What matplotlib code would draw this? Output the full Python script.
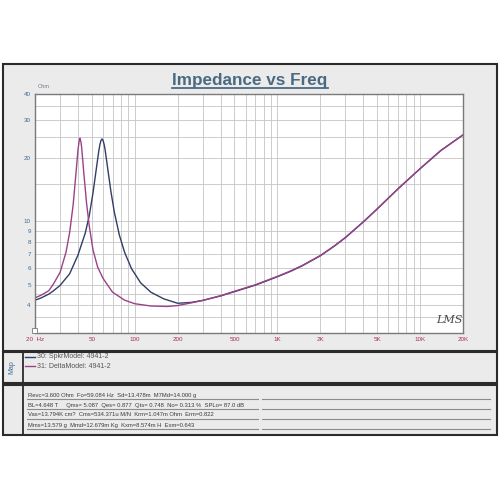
import numpy as np
import matplotlib
matplotlib.use('Agg')
import matplotlib.pyplot as plt
from matplotlib.patches import Rectangle
from matplotlib.lines import Line2D
from matplotlib.ticker import FixedLocator, NullFormatter

plt.rcParams['font.family'] = ['Liberation Sans', 'DejaVu Sans']

## Data ##################################################################
# 30: SpkrModel (navy)
spkr_freq = [20, 22, 25, 27, 30, 35, 40, 45, 48, 51, 54, 56, 57, 58, 59, 60, 61, 62, 65, 68, 72,
             78, 85, 95, 110, 130, 160, 200, 250, 300, 400, 500, 700, 1000, 1250, 1500, 2000,
             2500, 3000, 4000, 5000, 7000, 10000, 14000, 20000]
spkr_z = [4.22, 4.32, 4.51, 4.68, 4.96, 5.63, 6.9, 8.77, 10.6, 13.6, 18.0, 21.5, 23.0, 24.1, 24.5, 24.1, 23.1, 21.8, 17.3, 13.9, 11.0,
          8.6, 7.1, 5.95, 5.1, 4.6, 4.28, 4.08, 4.12, 4.21, 4.42, 4.63, 4.97, 5.45, 5.8, 6.15, 6.85,
          7.6, 8.35, 9.9, 11.4, 14.2, 17.7, 21.6, 25.6]

# 31: DeltaModel (purple)
delta_freq = [20, 22, 25, 27, 30, 33, 35, 37, 39, 40, 41, 41.3, 42, 42.5, 44, 46, 48, 51, 55, 60, 70,
              85, 100, 130, 170, 200, 250, 300, 400, 500, 700, 1000, 1250, 1500, 2000, 2500, 3000,
              4000, 5000, 7000, 10000, 14000, 20000]
delta_z = [4.33, 4.45, 4.68, 5.05, 5.72, 7.13, 8.85, 11.9, 17.7, 21.7, 24.5, 24.7, 23.7, 22.2, 16.8, 12.1, 9.5, 7.3, 6.05, 5.35, 4.6,
           4.22, 4.06, 3.96, 3.94, 3.98, 4.1, 4.21, 4.43, 4.65, 4.99, 5.47, 5.82, 6.17, 6.87, 7.62, 8.37,
           9.92, 11.42, 14.22, 17.72, 21.62, 25.6]

x_ticks = [20, 50, 100, 200, 500, 1000, 2000, 5000, 10000, 20000]
x_labels = ['20  Hz', '50', '100', '200', '500', '1K', '2K', '5K', '10K', '20K']
y_ticks = [4, 5, 6, 7, 8, 9, 10, 20, 30, 40]
y_labels = ['4', '5', '6', '7', '8', '9', '10', '20', '30', '40']
y_minor = [3.5, 4.5, 15, 25, 35]

legend_items = ['30: SpkrModel: 4941-2', '31: DeltaModel: 4941-2']
param_rows = [
    'Revc=3.600 Ohm  Fo=59.084 Hz  Sd=13.478m  M7Md=14.000 g',
    'BL=4.648 T     Qms= 5.087  Qes= 0.877  Qts= 0.748  No= 0.313 %  SPLo= 87.0 dB',
    'Vas=13.794K cm?  Cms=534.371u M/N  Krm=1.047m Ohm  Erm=0.822',
    'Mms=13.579 g  Mmd=12.679m Kg  Kxm=8.574m H  Exm=0.643',
]

navy = '#333d66'
purple = '#9a4288'
panel = '#ebebeb'
edge = '#2b2b2b'

W = H = 500.0
def fx(x):
    return x / W
def fy(y):
    return 1 - y / H

fig = plt.figure(figsize=(5, 5), dpi=100)
fig.patch.set_facecolor('white')

## Panels ###############################################################
def box(x0, y0, x1, y1, lw=1.5):
    r = Rectangle((fx(x0), fy(y1)), fx(x1) - fx(x0), fy(y0) - fy(y1),
                  transform=fig.transFigure, facecolor=panel, edgecolor=edge, lw=lw, zorder=0)
    fig.add_artist(r)

box(3, 64, 497, 351)
box(3, 352, 497, 383)
box(3, 385, 497, 435)
for (y0, y1) in [(352, 383), (385, 435)]:
    fig.add_artist(Line2D([fx(23), fx(23)], [fy(y0), fy(y1)], transform=fig.transFigure,
                          color=edge, lw=1.3))

## Title ################################################################
t = fig.text(0.5, fy(85), 'Impedance vs Freq', ha='center', va='baseline',
             fontsize=12.3, fontweight='bold', color='#4a6a82')
fig.canvas.draw()
bb = t.get_window_extent()
fig.add_artist(Line2D([bb.x0 / W, bb.x1 / W], [fy(88), fy(88)], transform=fig.transFigure,
                      color='#4a6a82', lw=1.3))

## Plot #################################################################
ax = fig.add_axes([fx(35), fy(333), fx(463) - fx(35), fy(94) - fy(333)])
ax.set_facecolor('white')
ax.set_xscale('log')
ax.set_yscale('log')
ax.set_xlim(20, 20000)
ax.set_ylim(2.95, 40)

x_minor = [m * 10 ** d for d in range(1, 5) for m in range(1, 10)]
x_minor = [v for v in x_minor if 20 <= v <= 20000 and v not in x_ticks]
ax.xaxis.set_major_locator(FixedLocator(x_ticks))
ax.xaxis.set_minor_locator(FixedLocator(x_minor))
ax.set_xticklabels(x_labels)
ax.xaxis.set_minor_formatter(NullFormatter())
ax.yaxis.set_major_locator(FixedLocator(y_ticks))
ax.yaxis.set_minor_locator(FixedLocator(y_minor))
ax.set_yticklabels(y_labels)
ax.yaxis.set_minor_formatter(NullFormatter())
ax.tick_params(which='both', length=0)
ax.tick_params(axis='x', labelsize=4.5, labelcolor='#a8304e', pad=3)
ax.tick_params(axis='y', labelsize=4.5, labelcolor='#3e6a96', pad=3)
ax.grid(True, which='both', color='#c8c8c8', lw=0.65)
for s in ax.spines.values():
    s.set_color('#7a7a7a')
    s.set_linewidth(1.0)

ax.plot(spkr_freq, spkr_z, color=navy, lw=1.0)
ax.plot(delta_freq, delta_z, color=purple, lw=1.0)

fig.text(fx(38), fy(87), 'Ohm', fontsize=4, color='#6a7a8a', va='center')
fig.text(fx(436), fy(320), 'LMS', fontsize=8, style='italic', color='#444444',
         family=['DejaVu Serif'], va='center')
fig.add_artist(Rectangle((fx(32), fy(333)), fx(5), 5 / H, transform=fig.transFigure,
                         facecolor='white', edgecolor='#777777', lw=0.6))

## Legend panel #########################################################
fig.text(fx(12), fy(367), 'Map', rotation=90, fontsize=5, color='#3e6a96',
         ha='center', va='center')
for i, (lbl, c) in enumerate(zip(legend_items, [navy, purple])):
    y = 357 + i * 9
    fig.add_artist(Line2D([fx(25), fx(35)], [fy(y), fy(y)], transform=fig.transFigure,
                          color=c, lw=1.0))
    fig.text(fx(37), fy(y), lbl, fontsize=5, color='#555555', va='center')

## Parameters panel #####################################################
for i, row in enumerate(param_rows):
    y = 395 + i * 10
    fig.text(fx(28), fy(y), row, fontsize=4.2, color='#3a3a3a', va='center')
    for (a, b) in [(27, 258), (262, 490)]:
        fig.add_artist(Line2D([fx(a), fx(b)], [fy(y + 3.5), fy(y + 3.5)],
                              transform=fig.transFigure, color='#8c8c8c', lw=0.8))

fig.savefig('out.png', dpi=100)
